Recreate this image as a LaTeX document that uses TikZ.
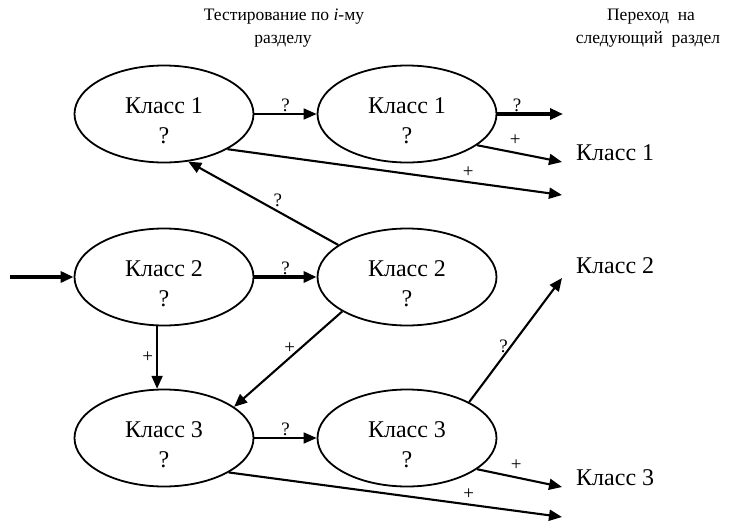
\documentclass[tikz,border=0pt]{standalone}
\usepackage{fontspec}
\setmainfont{Liberation Serif}[Ligatures=TeX]
\newfontfamily\romanfont{Liberation Serif}
\usetikzlibrary{arrows.meta,shapes.geometric}

\tikzset{
  ell/.style={ellipse, draw, line width=1.8pt, minimum width=179pt, minimum height=97pt, inner sep=0pt},
  cls/.style={align=center, font=\romanfont\fontsize{24}{30}\selectfont, inner sep=0pt},
  outtxt/.style={anchor=base west, font=\romanfont\fontsize{24}{30}\selectfont, inner sep=0pt},
  hdr/.style={anchor=base, font=\romanfont\fontsize{17.5}{23}\selectfont, inner sep=0pt},
  lbl/.style={font=\romanfont\fontsize{19}{19}\selectfont, inner sep=1pt},
  tip/.style={-{Triangle[length=13pt,width=11pt]}},
  conn/.style={tip, line width=2.1pt},
  thinconn/.style={tip, line width=1.7pt},
  heavy/.style={tip, line width=3.2pt},
}

\begin{document}
\begin{tikzpicture}[x=1pt, y=-1pt]
\useasboundingbox (0,0) rectangle (736,522);

% column headers
\node[hdr] (h1a) at (284,20) {Тестирование по \textit{i}-му};
\node[hdr] (h1b) at (283,43) {разделу};
\node[hdr] (h2a) at (651,20) {Переход\ \ на};
\node[hdr] (h2b) at (648,43) {следующий\ \ раздел};

% state ellipses
\node[ell] (e11) at (164,114) {};
\node[ell] (e12) at (407,114) {};
\node[ell] (e21) at (164,277) {};
\node[ell] (e22) at (407,277) {};
\node[ell] (e31) at (164,438) {};
\node[ell] (e32) at (407,438) {};

\node[cls, yshift=-6.5pt] (e11t) at (e11) {Класс 1\\?};
\node[cls, yshift=-6.5pt] (e12t) at (e12) {Класс 1\\?};
\node[cls, yshift=-6.5pt] (e21t) at (e21) {Класс 2\\?};
\node[cls, yshift=-6.5pt] (e22t) at (e22) {Класс 2\\?};
\node[cls, yshift=-6.5pt] (e31t) at (e31) {Класс 3\\?};
\node[cls, yshift=-6.5pt] (e32t) at (e32) {Класс 3\\?};

% free ends
\coordinate (in)    at (10,277);
\coordinate (o1q)   at (563,114);
\coordinate (o1p)   at (562,162);
\coordinate (o1b)   at (562,195);
\coordinate (o2)    at (562,278);
\coordinate (o3p)   at (562,487);
\coordinate (o3b)   at (562,517);

% next-section classes
\node[outtxt] (n1) at (576,160) {Класс 1};
\node[outtxt] (n2) at (576,273) {Класс 2};
\node[outtxt] (n3) at (576,485) {Класс 3};

% class 1 row
\draw[thinconn] (e11) -- node[lbl, above] {?} (e12);
\draw[heavy] (e12.east) -- node[lbl, above, pos=0.3] {?} (o1q);
\draw[conn] (e12.-24) -- node[lbl, above, pos=0.45, yshift=5pt] {+} (o1p);
\draw[conn] (e11.-29) -- node[lbl, above, pos=0.72, yshift=3pt] {+} (o1b);

% class 2 row
\draw[heavy] (in) -- (e21.west);
\draw[heavy] (e21) -- node[lbl, above] {?} (e22);
\draw[conn] (e22.155) -- node[lbl, above, pos=0.43, xshift=4pt] {?} (e11.-63);
\draw[conn] (e21.-98) -- node[lbl, left, xshift=-2pt] {+} (e31.98);
\draw[conn] (e22.208) -- node[lbl, left, pos=0.38, xshift=-4pt] {+} (e31.24);

% class 3 row
\draw[thinconn] (e31) -- node[lbl, above] {?} (e32);
\draw[conn] (e32.30) -- node[lbl, left, pos=0.45, xshift=-1pt] {?} (o2);
\draw[conn] (e32.-24) -- node[lbl, above, pos=0.46, yshift=5pt] {+} (o3p);
\draw[conn] (e31.-28.5) -- node[lbl, above, pos=0.72, yshift=3pt] {+} (o3b);
\end{tikzpicture}
\end{document}
